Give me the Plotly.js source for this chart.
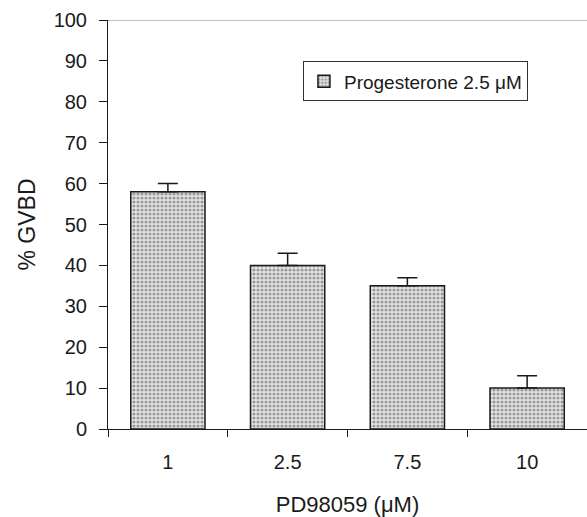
<!DOCTYPE html>
<html><head><meta charset="utf-8">
<script src="https://cdn.plot.ly/plotly-3.0.1.min.js"></script>
<style>html,body{margin:0;padding:0;background:#fff}#chart{width:587px;height:517px}</style>
</head><body><div id="chart"></div>
<script>
const categories = ["1", "2.5", "7.5", "10"];
const gvbd = [58, 40, 35, 10];
const errPlus = [2, 3, 2, 3];
const seriesName = "Progesterone 2.5 μM";
const yTicks = [0, 10, 20, 30, 40, 50, 60, 70, 80, 90, 100];

const trace = {
  type: "bar",
  x: categories,
  y: gvbd,
  name: seriesName,
  width: 0.62,
  marker: {
    color: "#d4d4d4",
    pattern: {shape: ".", fgcolor: "#9a9a9a", bgcolor: "#e6e6e6", size: 4, solidity: 0.5},
    line: {color: "#1a1a1a", width: 1.5}
  },
  error_y: {type: "data", symmetric: false, array: errPlus, arrayminus: errPlus.map(() => 0),
            color: "#1a1a1a", thickness: 1.5, width: 10},
  showlegend: true
};

const layout = {
  width: 587, height: 517,
  margin: {l: 108, r: 0, t: 20, b: 88},
  paper_bgcolor: "#fff", plot_bgcolor: "#fff",
  font: {family: "Liberation Sans, Arial, sans-serif", size: 20, color: "#1a1a1a"},
  showlegend: true,
  legend: {x: 0.407, y: 0.899, xanchor: "left", yanchor: "top",
           bordercolor: "#333", borderwidth: 1, bgcolor: "#fff",
           font: {size: 19}, itemwidth: 30, tracegroupgap: 0},
  xaxis: {
    type: "category", range: [-0.5, 3.5],
    showline: true, linecolor: "#1a1a1a", linewidth: 1,
    ticks: "outside", tickson: "boundaries", ticklen: 7, tickcolor: "#1a1a1a",
    ticklabelstandoff: 15, showgrid: false, zeroline: false,
    tickfont: {size: 20},
    title: {text: "PD98059 (μM)", standoff: 24, font: {size: 22}}
  },
  yaxis: {
    range: [0, 100], tickvals: yTicks, ticktext: yTicks.map(String),
    showline: true, linecolor: "#1a1a1a", linewidth: 1,
    ticks: "outside", ticklen: 8, tickcolor: "#1a1a1a",
    ticklabelstandoff: 8, showgrid: false, zeroline: false,
    tickfont: {size: 20},
    title: {text: "% GVBD", standoff: 11, font: {size: 23}}
  },
  shapes: [{type: "line", xref: "paper", yref: "y", x0: 0, x1: 1, y0: 100, y1: 100,
            line: {color: "#888", width: 1}}]
};

Plotly.newPlot("chart", [trace], layout, {displayModeBar: false, staticPlot: true});
</script></body></html>
